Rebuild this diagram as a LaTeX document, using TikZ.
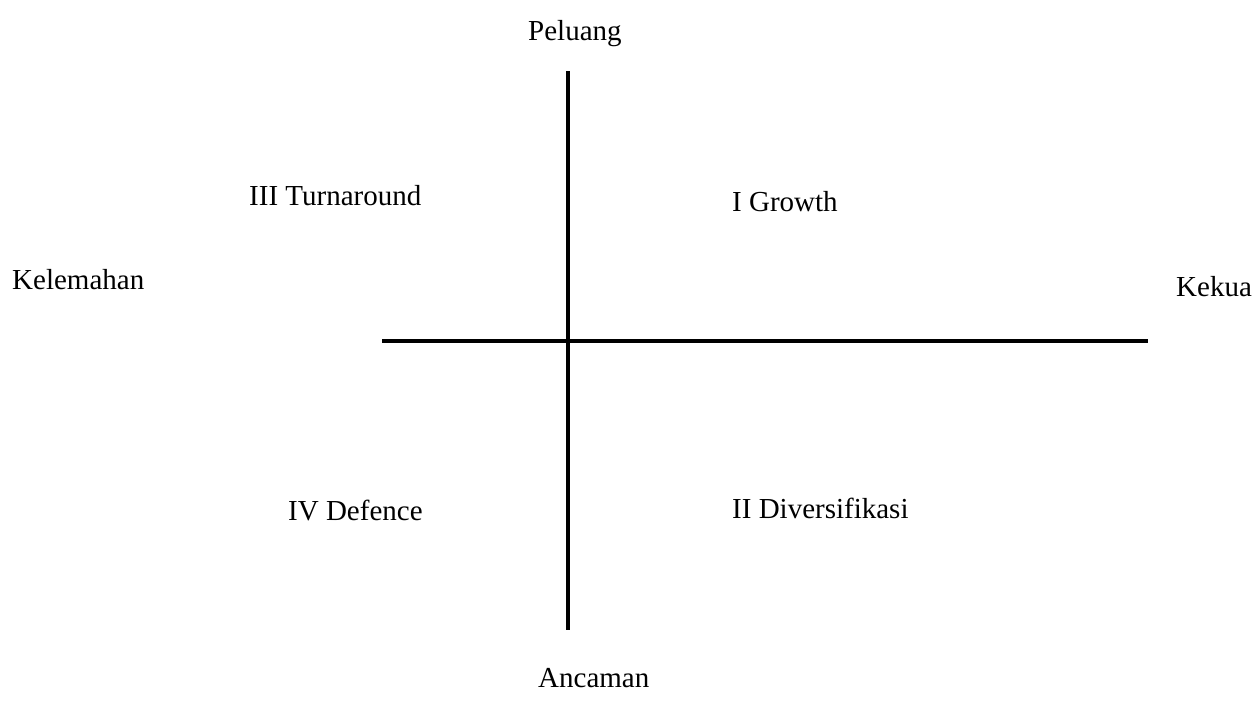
\documentclass[tikz,border=0pt]{standalone}
\usepackage{fontspec}
\setmainfont{Liberation Serif}
\begin{document}
\begin{tikzpicture}[x=1pt,y=-1pt,
  lbl/.style={anchor=base west,inner sep=0pt,font=\fontsize{29}{34}\selectfont},
  axis/.style={line width=4pt,line cap=butt}]
\useasboundingbox (0,0) rectangle (1255,712);
\coordinate (vtop) at (568,71);
\coordinate (vbot) at (568,630);
\coordinate (hleft) at (382,341);
\coordinate (hright) at (1148,341);
\draw[axis] (vtop) -- (vbot);
\draw[axis] (hleft) -- (hright);
\node[lbl] (peluang) at (528,40) {Peluang};
\node[lbl] (ancaman) at (538,687) {Ancaman};
\node[lbl] (kelemahan) at (12,289) {Kelemahan};
\node[lbl] (kekuatan) at (1176,296) {Kekua};
\node[lbl] (turn) at (249,205) {III Turnaround};
\node[lbl] (growth) at (732,211) {I Growth};
\node[lbl] (defence) at (288,520) {IV Defence};
\node[lbl] (divers) at (732,518) {II Diversifikasi};
\end{tikzpicture}
\end{document}
